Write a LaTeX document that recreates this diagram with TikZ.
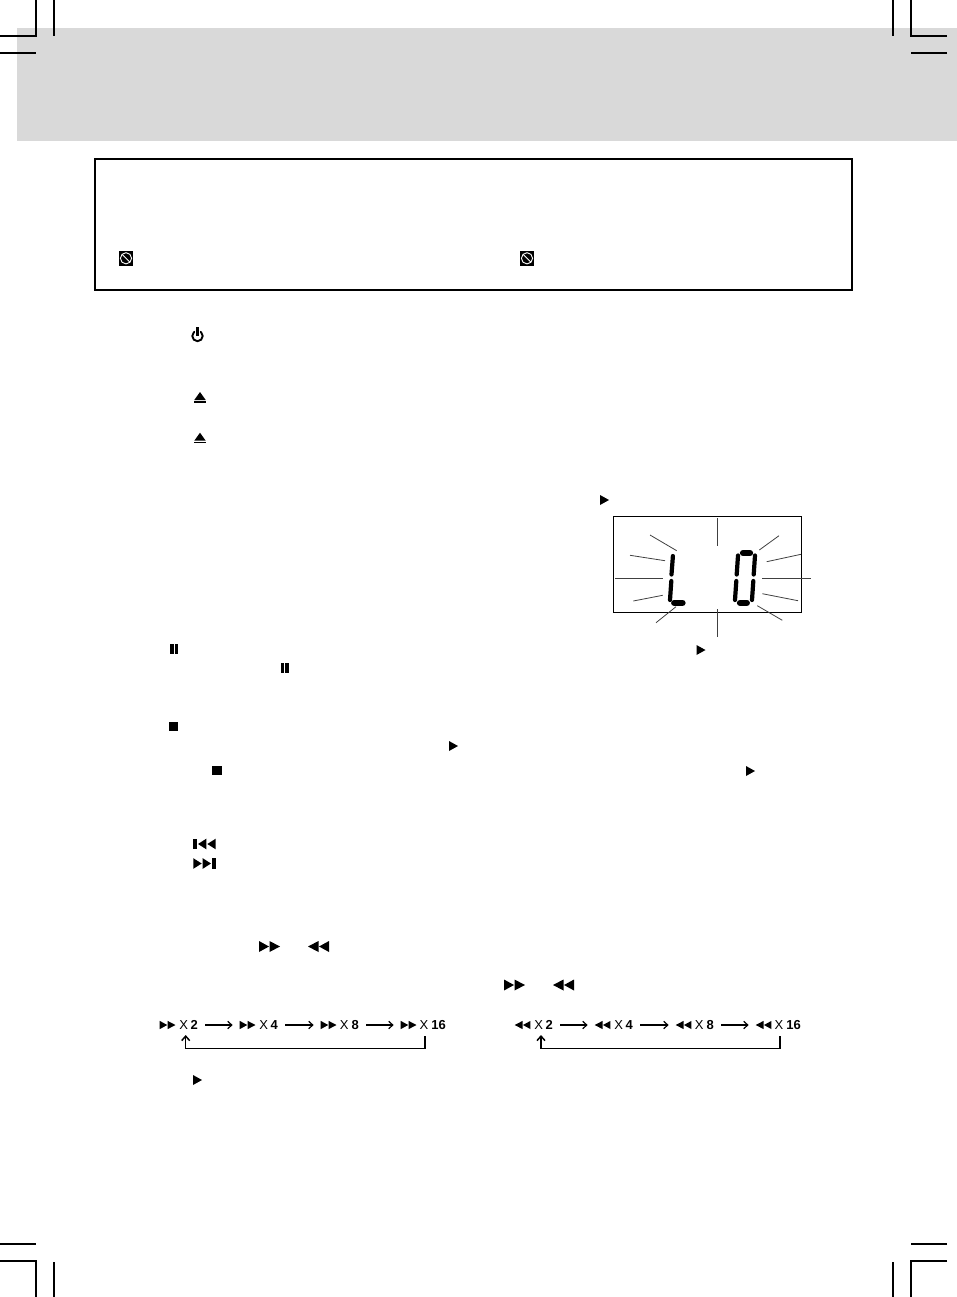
\documentclass[tikz,border=0pt]{standalone}
\usepackage{fontspec}
\setmainfont{Liberation Sans}
\usepackage{xcolor}
\usetikzlibrary{positioning,arrows.meta,calc}
\definecolor{bandgray}{HTML}{D9D9D9}

\begin{document}
\begin{tikzpicture}[
  x=1pt, y=-1pt,
  font=\fontsize{13}{13}\selectfont,
  cropline/.style={line width=1.05pt, preaction={draw=white, line width=2.8pt}},
  notebox/.style={draw, line width=2pt, minimum width=757pt, minimum height=131pt, inner sep=0pt},
  lcdbox/.style={draw, line width=0.9pt, minimum width=188pt, minimum height=96pt, inner sep=0pt},
  ray/.style={line width=0.8pt, black!75},
  segment/.style={line width=4.2pt, line cap=round},
  hsegment/.style={line width=6.3pt, line cap=round},
  speed/.style={text width=#1, align=right, inner sep=0pt},
  arr/.style={-{Straight Barb[length=4pt, width=7.5pt]}, line width=1.2pt, shorten <=7pt, shorten >=7pt},
  looparr/.style={-{Straight Barb[length=4.5pt, width=8pt]}, line width=1.5pt},
  playmark/.pic={\fill (-4.5,-5) -- (4.5,0) -- (-4.5,5) -- cycle;},
  ffmark/.pic={
    \fill (-10.5,-5.5) -- (-0.5,0) -- (-10.5,5.5) -- cycle;
    \fill (0,-5.5) -- (10.5,0) -- (0,5.5) -- cycle;},
  nextmark/.pic={
    \fill (-11.2,-5.3) -- (-2.8,0) -- (-11.2,5.3) -- cycle;
    \fill (-1.8,-5.3) -- (6.5,0) -- (-1.8,5.3) -- cycle;
    \fill (7.8,-5.3) rectangle (11.2,5.3);},
  ejectmark/.pic={
    \fill (-5.7,3.5) -- (0,-4.5) -- (5.7,3.5) -- cycle;
    \fill (-6,4.5) rectangle (6,6.2);},
  pausemark/.pic={
    \fill (-3.9,-5) rectangle (-0.5,5);
    \fill (0.5,-5) rectangle (3.9,5);},
  stopmark/.pic={\fill (-4.6,-4.5) rectangle (4.6,4.5);},
  noentrymark/.pic={
    \fill (-7,-7.5) rectangle (7,7.5);
    \draw[white, line width=0.9pt] (0,0) circle (5.6);
    \draw[white, line width=0.9pt] (-3.9,-3.9) -- (3.9,3.9);},
  powermark/.pic={
    \draw[line width=1.9pt] (0,0) circle (5.2);
    \fill[white] (-2.6,-9) rectangle (2.6,0);
    \fill (-1.4,-9) rectangle (1.4,-0.5);},
  ]
  \useasboundingbox (0,0) rectangle (957,1297);

  \fill[bandgray] (17,28) rectangle (957,141);

  \draw[cropline] (0,36) -- (36,36) -- (36,0);
  \draw[cropline] (0,53) -- (36,53);
  \draw[cropline] (54,0) -- (54,36);
  \draw[cropline] (947,36) -- (911,36) -- (911,0);
  \draw[cropline] (947,53) -- (911,53);
  \draw[cropline] (893,0) -- (893,36);
  \draw[cropline] (0,1261) -- (36,1261) -- (36,1297);
  \draw[cropline] (0,1244) -- (36,1244);
  \draw[cropline] (54,1262) -- (54,1297);
  \draw[cropline] (947,1261) -- (911,1261) -- (911,1297);
  \draw[cropline] (947,1244) -- (911,1244);
  \draw[cropline] (893,1262) -- (893,1297);

  \node[notebox] (note) at (473.4,224.4) {};
  \pic at (126,258.3) {noentrymark};
  \pic at (527,258.3) {noentrymark};

  \pic at (197.5,336) {powermark};
  \pic at (200,396.5) {ejectmark};
  \pic at (200,437.2) {ejectmark};

  \pic at (604.5,500) {playmark};
  \node[lcdbox] (lcd) at (707.5,564.3) {};
  \foreach \xa/\ya/\xb/\yb in {650/535/676.7/550.7, 630/555.3/665/560.7, 615/578/663.3/578,
      633.3/601/662.7/595.3, 656/622.7/676/606.7, 717.3/518.3/717.3/546, 717.3/609/717.3/636.7,
      779/535.7/759.3/550, 801/554.3/766.7/561.7, 762.3/578/810.7/578,
      762.3/593.7/798/600.7, 757.3/605.7/782.3/620.3}
    \draw[ray] (\xa,\ya) -- (\xb,\yb);

  \draw[segment] (672.9,556) -- (671.5,574.5);
  \draw[segment] (671.3,581) -- (670,600);
  \draw[hsegment] (674.2,602.8) -- (682.5,602.8);
  \draw[hsegment] (743,553) -- (750,553);
  \draw[segment] (738,555.5) -- (736.7,574.5);
  \draw[segment] (736.3,581) -- (735,600);
  \draw[segment] (755,555.5) -- (753.7,574.5);
  \draw[segment] (753.3,581) -- (752,600);
  \draw[hsegment] (740,602.8) -- (746.8,602.8);

  \pic at (174,649) {pausemark};
  \pic at (284.7,668.3) {pausemark};
  \pic at (701,650) {playmark};
  \pic at (173.5,726.7) {stopmark};
  \pic at (217,770.5) {stopmark};
  \pic at (453.5,746) {playmark};
  \pic at (750.5,771) {playmark};

  \pic[xscale=-1] at (204.5,844) {nextmark};
  \pic at (204.5,863.5) {nextmark};
  \pic at (269.5,946.5) {ffmark};
  \pic[xscale=-1] at (318.5,946.5) {ffmark};
  \pic at (514.5,985) {ffmark};
  \pic[xscale=-1] at (563.5,985) {ffmark};

  \node[speed=38pt, anchor=east] (fwdA) at (198,1025) {X\hspace{2.6pt}\textbf{2}};
  \node[speed=38pt, anchor=east] (fwdB) at (278,1025) {X\hspace{2.6pt}\textbf{4}};
  \node[speed=38pt, anchor=east] (fwdC) at (359,1025) {X\hspace{3pt}\textbf{8}};
  \node[speed=45pt, anchor=east] (fwdD) at (446,1025) {X\hspace{3pt}\textbf{16}};
  \foreach \n in {fwdA,fwdB,fwdC,fwdD}
    \pic[scale=.75] at ($(\n.west)+(8,0)$) {ffmark};
  \draw[arr] (fwdA.east) -- (fwdB.west);
  \draw[arr] (fwdB.east) -- (fwdC.west);
  \draw[arr] (fwdC.east) -- (fwdD.west);
  \draw[looparr] (425,1036) -- (425,1048.5) -- (185.7,1048.5) -- (185.7,1035);

  \node[speed=38pt, anchor=east] (revA) at (553,1025) {X\hspace{2.6pt}\textbf{2}};
  \node[speed=38pt, anchor=east] (revB) at (633,1025) {X\hspace{2.6pt}\textbf{4}};
  \node[speed=38pt, anchor=east] (revC) at (714,1025) {X\hspace{3pt}\textbf{8}};
  \node[speed=45pt, anchor=east] (revD) at (801,1025) {X\hspace{3pt}\textbf{16}};
  \foreach \n in {revA,revB,revC,revD}
    \pic[xscale=-.75, yscale=.75] at ($(\n.west)+(8,0)$) {ffmark};
  \draw[arr] (revA.east) -- (revB.west);
  \draw[arr] (revB.east) -- (revC.west);
  \draw[arr] (revC.east) -- (revD.west);
  \draw[looparr] (780,1036) -- (780,1048.5) -- (541,1048.5) -- (541,1035);

  \pic at (197.5,1080) {playmark};
\end{tikzpicture}
\end{document}
